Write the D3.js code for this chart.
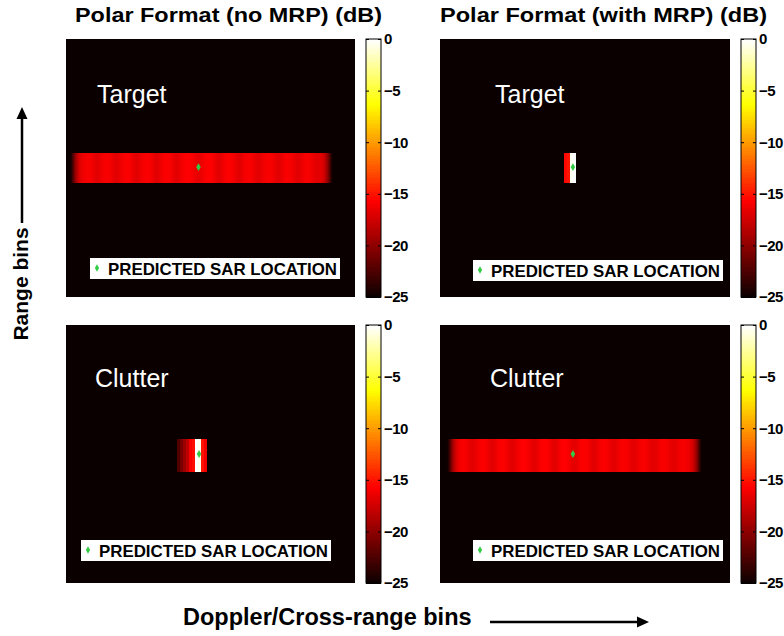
<!DOCTYPE html>
<html>
<head>
<meta charset="utf-8">
<script src="https://cdn.jsdelivr.net/npm/d3@7"></script>
<style>
body { margin: 0; background: #fff; }
svg { display: block; font-family: "Liberation Sans", Arial, sans-serif; }
</style>
</head>
<body>
<div class="container"></div>
<script>
const WIDTH = 784;
const HEIGHT = 636;
const N_COLS = 96;   // cross-range bins per panel
const N_ROWS = 86;   // range bins per panel
const DB_MIN = -25;
const DB_MAX = 0;

const cbTicks = [0, -5, -10, -15, -20, -25];
const titles = ["Polar Format (no MRP) (dB)", "Polar Format (with MRP) (dB)"];
const panelLabels = ["Target", "Target", "Clutter", "Clutter"];
const legendText = "PREDICTED SAR LOCATION";

// dB per cross-range bin, starting at the given bin, over the given rows
const tlStart = 2;
const tlRows = [38, 48];
const tlProfile = [-22.0, -18.8, -17.0,
    -16.3, -16.0, -15.8, -16.0, -16.5, -16.8, -16.4,
    -16.0, -15.8, -15.9, -16.3, -16.8, -16.6, -16.2,
    -15.9, -15.7, -15.9, -16.4, -16.8, -16.5, -16.0,
    -15.8, -15.8, -16.0, -16.6, -16.8, -16.3, -15.9,
    -15.7, -15.8, -16.2, -16.7, -16.6, -16.1, -15.8,
    -15.6, -15.7, -16.0, -16.5, -16.6, -16.2, -15.8,
    -15.6, -15.8, -16.3, -16.8, -16.5, -16.0, -15.7,
    -15.7, -16.0, -16.5, -16.8, -16.4, -15.9, -15.8,
    -15.9, -16.3, -16.7, -16.6, -16.2, -15.9, -15.8,
    -16.0, -16.5, -16.8, -16.5, -16.0, -15.8, -15.9,
    -16.2, -16.7, -16.7, -16.3, -15.9, -15.9, -16.1,
    -16.5, -16.8, -16.6,
    -17.2, -19.0, -22.0];

const trStart = 41;
const trRows = [38, 48];
const trProfile = [-15.4, -14.9, -0.3, 0];

const blStart = 37;
const blRows = [38, 49];
const blProfile = [-22.3, -20.8, -19.4, -18.2, -15.9, -15.2, 0, -0.5, -15.0, -16.2];

const brStart = 3;
const brRows = [38, 49];
const brProfile = [-22.0, -18.8, -17.0,
    -16.1, -15.8, -15.9, -16.4, -16.8, -16.6, -16.2,
    -15.8, -15.7, -16.0, -16.5, -16.8, -16.4, -15.9,
    -15.7, -15.8, -16.2, -16.7, -16.6, -16.1, -15.8,
    -15.6, -15.8, -16.1, -16.6, -16.7, -16.2, -15.7,
    -15.6, -15.7, -16.2, -16.7, -16.6, -16.0, -15.6,
    -15.6, -15.9, -16.4, -16.8, -16.4, -15.9, -15.7,
    -15.8, -16.2, -16.7, -16.7, -16.2, -15.8, -15.8,
    -15.9, -16.4, -16.8, -16.5, -16.0, -15.8, -15.9,
    -16.1, -16.6, -16.7, -16.3, -15.9, -15.8, -16.0,
    -16.4, -16.8, -16.6, -16.1, -15.8, -15.9, -16.2,
    -16.6, -16.7, -16.4, -16.0, -15.9, -16.1, -16.5,
    -17.2, -19.0, -22.0];

// predicted SAR location (bin coordinates) in each panel
const sarCol = [44, 44, 44.2, 44];
const sarRow = [42.7, 42.7, 43, 43];

// matlab "hot"
var hot = d3.scaleLinear()
    .domain([-25, -15.625, -6.25, 0])
    .range(["#0a0000", "#ff0000", "#ffff00", "#ffffff"])
    .clamp(true);

var panels = [
    {x: 66,  y: 39,  w: 289, h: 258, start: tlStart, rows: tlRows, profile: tlProfile, label: [31, 64], legend: [24, 219], blur: true},
    {x: 440, y: 39,  w: 290, h: 258, start: trStart, rows: trRows, profile: trProfile, label: [55, 64], legend: [33, 221], blur: false},
    {x: 66,  y: 325, w: 289, h: 258, start: blStart, rows: blRows, profile: blProfile, label: [29, 62], legend: [15, 215], blur: false},
    {x: 440, y: 325, w: 290, h: 258, start: brStart, rows: brRows, profile: brProfile, label: [50, 62], legend: [33, 215], blur: true}
];

var svg = d3.select(".container").append("svg")
    .attr("width", WIDTH)
    .attr("height", HEIGHT);

var defs = svg.append("defs");
defs.append("filter").attr("id", "soft")
    .attr("x", "-10%").attr("y", "-20%").attr("width", "120%").attr("height", "140%")
    .append("feGaussianBlur").attr("stdDeviation", "1.3 0.2");

panels.forEach(function(p, i) {
    var xScale = d3.scaleLinear().domain([0, N_COLS]).range([p.x, p.x + p.w]);
    var yScale = d3.scaleLinear().domain([0, N_ROWS]).range([p.y, p.y + p.h]);

    var g = svg.append("g");
    g.append("rect")
        .attr("x", p.x).attr("y", p.y)
        .attr("width", p.w).attr("height", p.h)
        .attr("fill", hot(DB_MIN));

    // band of cells
    g.append("g").attr("filter", p.blur ? "url(#soft)" : null)
        .selectAll("rect")
        .data(p.profile)
        .enter().append("rect")
        .attr("x", function(d, k) { return Math.round(xScale(p.start + k)); })
        .attr("width", function(d, k) { return Math.round(xScale(p.start + k + 1)) - Math.round(xScale(p.start + k)); })
        .attr("y", Math.round(yScale(p.rows[0])))
        .attr("height", Math.round(yScale(p.rows[1]) - yScale(p.rows[0])))
        .attr("fill", function(d) { return hot(d); })
        .attr("shape-rendering", "crispEdges");

    g.append("path")
        .attr("d", d3.symbol(d3.symbolDiamond, 18)())
        .attr("transform", "translate(" + xScale(sarCol[i]) + "," + yScale(sarRow[i]) + ")")
        .attr("fill", "#33cc44");

    g.append("text")
        .attr("x", p.x + p.label[0]).attr("y", p.y + p.label[1])
        .attr("fill", "#fff")
        .attr("font-size", 25)
        .text(panelLabels[i]);

    // legend box
    var lg = g.append("g").attr("transform", "translate(" + (p.x + p.legend[0]) + "," + (p.y + p.legend[1]) + ")");
    lg.append("rect").attr("width", 250).attr("height", 21).attr("fill", "#fff");
    lg.append("path")
        .attr("d", d3.symbol(d3.symbolDiamond, 16)())
        .attr("transform", "translate(7,10)")
        .attr("fill", "#33cc44");
    lg.append("text")
        .attr("x", 18).attr("y", 17)
        .attr("font-size", 16.5).attr("font-weight", "bold")
        .attr("textLength", 229).attr("lengthAdjust", "spacingAndGlyphs")
        .text(legendText);

    // colour bar
    var cbX = p.x + p.w + 11, cbW = 15;
    var cbScale = d3.scaleLinear().domain([DB_MIN, DB_MAX]).range([p.y + p.h, p.y]);
    var cb = svg.append("g");
    cb.selectAll("rect")
        .data(d3.range(DB_MIN, DB_MAX, 0.25))
        .enter().append("rect")
        .attr("x", cbX).attr("width", cbW)
        .attr("y", function(d) { return cbScale(d + 0.25); })
        .attr("height", function(d) { return cbScale(d) - cbScale(d + 0.25) + 1; })
        .attr("fill", function(d) { return hot(d + 0.125); })
        .attr("shape-rendering", "crispEdges");
    cb.append("rect")
        .attr("x", cbX).attr("y", p.y).attr("width", cbW).attr("height", p.h)
        .attr("fill", "none").attr("stroke", "#000");

    var right = cb.append("g")
        .attr("transform", "translate(" + (cbX + cbW) + ",0)")
        .call(d3.axisRight(cbScale).tickValues(cbTicks).tickSize(-3).tickPadding(3).tickFormat(d3.format("d")));
    right.select(".domain").remove();
    right.selectAll("text")
        .attr("font-size", 15).attr("font-weight", "bold")
        .attr("font-family", "Liberation Sans, Arial, sans-serif")
        .attr("letter-spacing", -0.5)
        .attr("fill", "#000");

    var left = cb.append("g")
        .attr("transform", "translate(" + cbX + ",0)")
        .call(d3.axisLeft(cbScale).tickValues(cbTicks).tickSize(-3).tickFormat(""));
    left.select(".domain").remove();
});

// titles
svg.selectAll(".title")
    .data(titles)
    .enter().append("text")
    .attr("class", "title")
    .attr("x", function(d, i) { return i === 0 ? 75 : 440; })
    .attr("y", 22)
    .attr("font-size", 20).attr("font-weight", "bold")
    .attr("textLength", function(d, i) { return i === 0 ? 307 : 327; })
    .attr("lengthAdjust", "spacingAndGlyphs")
    .text(function(d) { return d; });

// axis labels with arrows
svg.append("text")
    .attr("transform", "translate(28,284) rotate(-90)")
    .attr("text-anchor", "middle")
    .attr("font-size", 21).attr("font-weight", "bold")
    .text("Range bins");
svg.append("line")
    .attr("x1", 22).attr("y1", 223).attr("x2", 22).attr("y2", 116)
    .attr("stroke", "#000").attr("stroke-width", 2.5);
svg.append("path")
    .attr("d", "M22,107L16.5,119L27.5,119Z")
    .attr("fill", "#000");

svg.append("text")
    .attr("x", 183).attr("y", 625)
    .attr("font-size", 23.5).attr("font-weight", "bold")
    .text("Doppler/Cross-range bins");
svg.append("line")
    .attr("x1", 490).attr("y1", 622).attr("x2", 640).attr("y2", 622)
    .attr("stroke", "#000").attr("stroke-width", 2.5);
svg.append("path")
    .attr("d", "M649,622L637,616.5L637,627.5Z")
    .attr("fill", "#000");
</script>
</body>
</html>
